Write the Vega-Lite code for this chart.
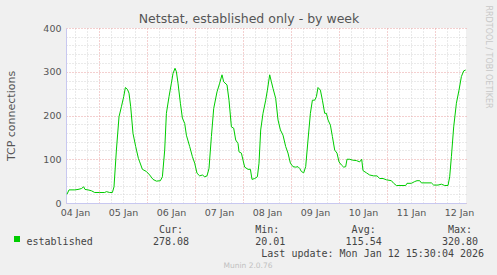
{
  "$schema": "https://vega.github.io/schema/vega-lite/v6.json",
  "width": 400,
  "height": 175,
  "autosize": {"type": "none"},
  "padding": {"left": 66, "top": 28, "right": 31, "bottom": 72},
  "background": "#f0f0f0",
  "view": {"fill": "#ffffff", "stroke": null},
  "config": {"font": "DejaVu Sans"},
  "title": {"text": "Munin 2.0.76", "orient": "bottom", "anchor": "middle", "frame": "group", "fontSize": 7.5, "fontWeight": "normal", "color": "#c0c0c0", "font": "DejaVu Sans", "dx": -18, "offset": 4},
  "data": {"values": [
    {"t":"2026-01-04T08:00:00Z","v":20},{"t":"2026-01-04T09:00:00Z","v":30},{"t":"2026-01-04T11:54:00Z","v":30},{"t":"2026-01-04T13:30:00Z","v":31},
    {"t":"2026-01-04T15:12:00Z","v":33},{"t":"2026-01-04T16:21:00Z","v":37},{"t":"2026-01-04T17:00:00Z","v":31},{"t":"2026-01-04T18:30:00Z","v":30},
    {"t":"2026-01-04T20:12:00Z","v":28},{"t":"2026-01-04T21:51:00Z","v":24},{"t":"2026-01-05T00:21:00Z","v":24},{"t":"2026-01-05T02:51:00Z","v":24},
    {"t":"2026-01-05T03:42:00Z","v":26},{"t":"2026-01-05T05:21:00Z","v":24},{"t":"2026-01-05T06:42:00Z","v":24},{"t":"2026-01-05T07:30:00Z","v":37},
    {"t":"2026-01-05T08:42:00Z","v":121},{"t":"2026-01-05T10:00:00Z","v":197},{"t":"2026-01-05T11:12:00Z","v":220},{"t":"2026-01-05T12:21:00Z","v":243},
    {"t":"2026-01-05T13:12:00Z","v":264},{"t":"2026-01-05T14:12:00Z","v":260},{"t":"2026-01-05T15:00:00Z","v":251},{"t":"2026-01-05T15:51:00Z","v":220},
    {"t":"2026-01-05T17:00:00Z","v":159},{"t":"2026-01-05T18:21:00Z","v":129},{"t":"2026-01-05T19:42:00Z","v":102},{"t":"2026-01-05T20:21:00Z","v":94},
    {"t":"2026-01-05T21:42:00Z","v":77},{"t":"2026-01-05T23:42:00Z","v":72},{"t":"2026-01-06T01:21:00Z","v":64},{"t":"2026-01-06T03:00:00Z","v":54},
    {"t":"2026-01-06T04:42:00Z","v":50},{"t":"2026-01-06T06:42:00Z","v":51},{"t":"2026-01-06T07:42:00Z","v":60},{"t":"2026-01-06T08:51:00Z","v":121},
    {"t":"2026-01-06T09:42:00Z","v":205},{"t":"2026-01-06T11:00:00Z","v":243},{"t":"2026-01-06T12:12:00Z","v":274},{"t":"2026-01-06T13:00:00Z","v":296},
    {"t":"2026-01-06T14:00:00Z","v":308},{"t":"2026-01-06T14:42:00Z","v":300},{"t":"2026-01-06T15:30:00Z","v":274},{"t":"2026-01-06T16:42:00Z","v":228},
    {"t":"2026-01-06T17:42:00Z","v":194},{"t":"2026-01-06T18:51:00Z","v":182},{"t":"2026-01-06T19:42:00Z","v":155},{"t":"2026-01-06T21:21:00Z","v":129},
    {"t":"2026-01-06T22:42:00Z","v":106},{"t":"2026-01-06T23:51:00Z","v":91},{"t":"2026-01-07T01:00:00Z","v":68},{"t":"2026-01-07T02:21:00Z","v":62},
    {"t":"2026-01-07T03:42:00Z","v":64},{"t":"2026-01-07T04:51:00Z","v":60},{"t":"2026-01-07T06:00:00Z","v":62},{"t":"2026-01-07T07:00:00Z","v":79},
    {"t":"2026-01-07T08:12:00Z","v":152},{"t":"2026-01-07T09:21:00Z","v":216},{"t":"2026-01-07T11:00:00Z","v":254},{"t":"2026-01-07T12:21:00Z","v":274},
    {"t":"2026-01-07T13:30:00Z","v":293},{"t":"2026-01-07T14:21:00Z","v":277},{"t":"2026-01-07T16:00:00Z","v":270},{"t":"2026-01-07T17:00:00Z","v":235},
    {"t":"2026-01-07T18:12:00Z","v":174},{"t":"2026-01-07T19:21:00Z","v":171},{"t":"2026-01-07T20:21:00Z","v":144},{"t":"2026-01-07T21:30:00Z","v":136},
    {"t":"2026-01-07T22:00:00Z","v":117},{"t":"2026-01-07T23:12:00Z","v":114},{"t":"2026-01-08T00:00:00Z","v":98},{"t":"2026-01-08T00:51:00Z","v":82},
    {"t":"2026-01-08T02:30:00Z","v":77},{"t":"2026-01-08T03:42:00Z","v":77},{"t":"2026-01-08T04:30:00Z","v":54},{"t":"2026-01-08T05:51:00Z","v":56},
    {"t":"2026-01-08T07:12:00Z","v":60},{"t":"2026-01-08T08:00:00Z","v":91},{"t":"2026-01-08T08:51:00Z","v":167},{"t":"2026-01-08T10:00:00Z","v":205},
    {"t":"2026-01-08T11:21:00Z","v":235},{"t":"2026-01-08T12:12:00Z","v":258},{"t":"2026-01-08T13:21:00Z","v":293},{"t":"2026-01-08T14:12:00Z","v":277},
    {"t":"2026-01-08T15:00:00Z","v":262},{"t":"2026-01-08T16:21:00Z","v":239},{"t":"2026-01-08T17:30:00Z","v":190},{"t":"2026-01-08T18:42:00Z","v":167},
    {"t":"2026-01-08T20:00:00Z","v":155},{"t":"2026-01-08T21:21:00Z","v":129},{"t":"2026-01-08T22:30:00Z","v":114},{"t":"2026-01-08T23:42:00Z","v":91},
    {"t":"2026-01-09T01:00:00Z","v":83},{"t":"2026-01-09T02:21:00Z","v":82},{"t":"2026-01-09T03:30:00Z","v":83},{"t":"2026-01-09T04:21:00Z","v":79},
    {"t":"2026-01-09T05:12:00Z","v":72},{"t":"2026-01-09T06:21:00Z","v":69},{"t":"2026-01-09T07:21:00Z","v":83},{"t":"2026-01-09T08:30:00Z","v":144},
    {"t":"2026-01-09T09:42:00Z","v":205},{"t":"2026-01-09T10:42:00Z","v":235},{"t":"2026-01-09T11:51:00Z","v":235},{"t":"2026-01-09T12:42:00Z","v":243},
    {"t":"2026-01-09T13:30:00Z","v":264},{"t":"2026-01-09T14:42:00Z","v":258},{"t":"2026-01-09T15:42:00Z","v":235},{"t":"2026-01-09T16:51:00Z","v":205},
    {"t":"2026-01-09T17:42:00Z","v":205},{"t":"2026-01-09T18:30:00Z","v":190},{"t":"2026-01-09T19:42:00Z","v":178},{"t":"2026-01-09T20:42:00Z","v":152},
    {"t":"2026-01-09T21:51:00Z","v":121},{"t":"2026-01-09T23:00:00Z","v":114},{"t":"2026-01-10T00:00:00Z","v":94},{"t":"2026-01-10T01:12:00Z","v":87},
    {"t":"2026-01-10T02:21:00Z","v":82},{"t":"2026-01-10T03:21:00Z","v":83},{"t":"2026-01-10T04:00:00Z","v":100},{"t":"2026-01-10T05:21:00Z","v":100},
    {"t":"2026-01-10T06:42:00Z","v":98},{"t":"2026-01-10T08:42:00Z","v":97},{"t":"2026-01-10T10:21:00Z","v":94},{"t":"2026-01-10T11:21:00Z","v":100},
    {"t":"2026-01-10T12:00:00Z","v":74},{"t":"2026-01-10T13:42:00Z","v":69},{"t":"2026-01-10T15:21:00Z","v":64},{"t":"2026-01-10T17:21:00Z","v":62},
    {"t":"2026-01-10T19:00:00Z","v":62},{"t":"2026-01-10T20:21:00Z","v":56},{"t":"2026-01-10T22:00:00Z","v":56},{"t":"2026-01-10T23:42:00Z","v":53},
    {"t":"2026-01-11T02:12:00Z","v":51},{"t":"2026-01-11T03:21:00Z","v":45},{"t":"2026-01-11T04:42:00Z","v":40},{"t":"2026-01-11T09:21:00Z","v":40},
    {"t":"2026-01-11T10:00:00Z","v":45},{"t":"2026-01-11T12:12:00Z","v":45},{"t":"2026-01-11T13:51:00Z","v":49},{"t":"2026-01-11T15:00:00Z","v":51},
    {"t":"2026-01-11T16:21:00Z","v":51},{"t":"2026-01-11T17:12:00Z","v":46},{"t":"2026-01-11T22:12:00Z","v":46},{"t":"2026-01-11T23:21:00Z","v":41},
    {"t":"2026-01-12T01:30:00Z","v":41},{"t":"2026-01-12T03:12:00Z","v":43},{"t":"2026-01-12T04:51:00Z","v":40},{"t":"2026-01-12T06:30:00Z","v":40},
    {"t":"2026-01-12T07:21:00Z","v":60},{"t":"2026-01-12T08:12:00Z","v":106},{"t":"2026-01-12T09:21:00Z","v":174},{"t":"2026-01-12T10:42:00Z","v":228},
    {"t":"2026-01-12T12:00:00Z","v":258},{"t":"2026-01-12T13:12:00Z","v":289},{"t":"2026-01-12T14:21:00Z","v":302},{"t":"2026-01-12T15:21:00Z","v":304}
  ]},
  "layer": [
    {
      "mark": {"type": "line", "strokeWidth": 1},
      "encoding": {
        "x": {
          "field": "t", "type": "temporal",
          "scale": {"type": "utc", "nice": false, "domain": [1767511800000, 1768231800000]},
          "axis": {
            "orient": "bottom",
            "values": [1767528000000, 1767549600000, 1767571200000, 1767592800000, 1767614400000, 1767636000000, 1767657600000, 1767679200000, 1767700800000, 1767722400000, 1767744000000, 1767765600000, 1767787200000, 1767808800000, 1767830400000, 1767852000000, 1767873600000, 1767895200000, 1767916800000, 1767938400000, 1767960000000, 1767981600000, 1768003200000, 1768024800000, 1768046400000, 1768068000000, 1768089600000, 1768111200000, 1768132800000, 1768154400000, 1768176000000, 1768197600000, 1768219200000],
            "labelExpr": "utchours(datum.value) == 12 ? utcFormat(datum.value, '%d %b') : ''",
            "labelOverlap": false, "labelFlush": false, "labelBound": false,
            "labelFontSize": 9.5, "labelColor": "#555555", "labelPadding": 4,
            "ticks": false,
            "domainColor": "#c8c8f0",
            "grid": true,
            "gridColor": {"condition": {"test": "utchours(datum.value) == 0", "value": "#e8a0a0"}, "value": "#d4d4d4"},
            "gridDash": [1, 2],
            "title": [
              "\u200b\u00a0\u00a0\u00a0\u00a0\u00a0\u00a0\u00a0\u00a0\u00a0\u00a0\u00a0\u00a0\u00a0\u00a0\u00a0\u00a0\u00a0\u00a0\u00a0\u00a0\u00a0\u00a0Cur:\u00a0\u00a0\u00a0\u00a0\u00a0\u00a0\u00a0\u00a0\u00a0\u00a0\u00a0\u00a0Min:\u00a0\u00a0\u00a0\u00a0\u00a0\u00a0\u00a0\u00a0\u00a0\u00a0\u00a0\u00a0Avg:\u00a0\u00a0\u00a0\u00a0\u00a0\u00a0\u00a0\u00a0\u00a0\u00a0\u00a0\u00a0Max:",
              "established\u00a0\u00a0\u00a0\u00a0\u00a0\u00a0\u00a0\u00a0\u00a0\u00a0278.08\u00a0\u00a0\u00a0\u00a0\u00a0\u00a0\u00a0\u00a0\u00a0\u00a0\u00a020.01\u00a0\u00a0\u00a0\u00a0\u00a0\u00a0\u00a0\u00a0\u00a0\u00a0115.54\u00a0\u00a0\u00a0\u00a0\u00a0\u00a0\u00a0\u00a0\u00a0\u00a0320.80",
              "\u200b\u00a0\u00a0\u00a0\u00a0\u00a0\u00a0\u00a0\u00a0\u00a0\u00a0\u00a0\u00a0\u00a0\u00a0\u00a0\u00a0\u00a0\u00a0\u00a0\u00a0\u00a0\u00a0\u00a0\u00a0\u00a0\u00a0\u00a0\u00a0\u00a0\u00a0\u00a0\u00a0\u00a0\u00a0\u00a0\u00a0\u00a0\u00a0\u00a0Last update: Mon Jan 12 15:30:04 2026"
            ],
            "titleFont": "DejaVu Sans Mono", "titleFontSize": 10, "titleFontWeight": "normal", "titleColor": "#444444",
            "titleAlign": "left", "titleAnchor": "start", "titleBaseline": "top",
            "titleX": -40, "titleY": 21
          }
        },
        "y": {
          "field": "v", "type": "quantitative",
          "scale": {"domain": [0, 400], "nice": false},
          "axis": {
            "orient": "left",
            "values": [0, 20, 40, 60, 80, 100, 120, 140, 160, 180, 200, 220, 240, 260, 280, 300, 320, 340, 360, 380, 400],
            "labelExpr": "datum.value % 100 == 0 ? datum.label : ''",
            "labelOverlap": false, "labelFlush": false,
            "labelFontSize": 9.5, "labelColor": "#555555", "labelPadding": 5,
            "ticks": false,
            "domainColor": "#c8c8f0",
            "grid": true,
            "gridColor": {"condition": {"test": "datum.value % 100 == 0", "value": "#e8a0a0"}, "value": "#d4d4d4"},
            "gridDash": [1, 2],
            "title": "TCP connections",
            "titleFontSize": 11, "titleFontWeight": "normal", "titleColor": "#555555",
            "titleAngle": -90, "titleAlign": "center", "titleBaseline": "middle",
            "titleX": -55, "titleY": 87.5
          }
        },
        "color": {
          "datum": "established", "type": "nominal",
          "scale": {"range": ["#00cc00"]},
          "legend": {
            "orient": "none", "legendX": -52, "legendY": 208,
            "title": null, "symbolType": "square", "symbolSize": 36,
            "symbolFillColor": "#00cc00", "symbolStrokeColor": "#00cc00", "symbolStrokeWidth": 0,
            "labelExpr": "''", "labelFontSize": 6, "padding": 0
          }
        }
      }
    },
    {
      "mark": {"type": "line", "strokeOpacity": 0},
      "encoding": {
        "x": {
          "field": "t", "type": "temporal",
          "axis": {
            "orient": "top", "labels": false, "ticks": false, "domain": false, "grid": false,
            "title": "Netstat, established only - by week",
            "titleFontSize": 12.5, "titleFontWeight": "normal", "titleColor": "#555555",
            "titleAlign": "center", "titleBaseline": "alphabetic",
            "titleX": 182.5, "titleY": -6
          }
        },
        "y": {
          "field": "v", "type": "quantitative",
          "axis": {
            "orient": "right", "labels": false, "ticks": false, "domain": false, "grid": false,
            "title": "RRDTOOL / TOBI OETIKER",
            "titleFontSize": 8, "titleFontWeight": "normal", "titleColor": "#c8c8c8",
            "titleAngle": 90, "titleAlign": "left", "titleBaseline": "middle",
            "titleX": 21.5, "titleY": -23
          }
        }
      }
    }
  ],
  "resolve": {"axis": {"x": "independent", "y": "independent"}}
}
